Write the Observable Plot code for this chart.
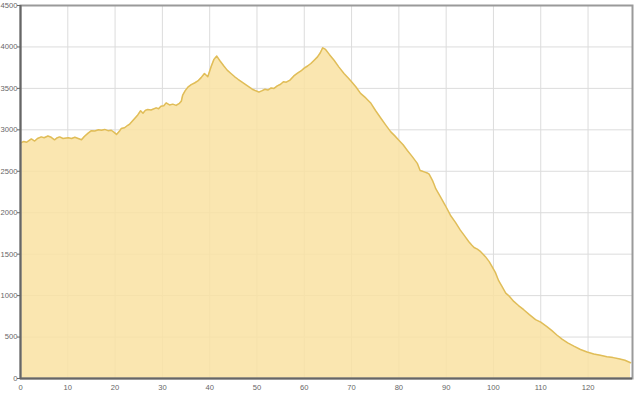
<!DOCTYPE html>
<html>
<head>
<meta charset="utf-8">
<script src="https://cdn.jsdelivr.net/npm/d3@7"></script>
<script src="https://cdn.jsdelivr.net/npm/@observablehq/plot@0.6"></script>
<style>
  html, body { margin: 0; padding: 0; background: #fff; }
  #chart svg { display: block; }
</style>
</head>
<body>
<div id="chart"></div>
<script>
const km = [0,0.7,1.3,2,2.3,3,3.6,4.4,5,5.8,6.5,7.2,7.8,8.3,9,10.1,10.8,11.5,12.2,12.9,
  13.5,14.3,15,15.7,16.5,17.1,17.8,18.5,19.2,19.8,20.3,21,21.3,22,22.7,23.1,24.1,24.8,25.4,25.9,
  26.4,26.9,27.6,28.7,29.2,29.7,30.3,30.8,31.5,32.2,32.9,33.6,34,34.3,34.8,35.4,36.1,36.8,37.5,38.2,
  38.9,39.6,40.3,40.9,41.5,42.2,43,43.7,44.5,45.3,46,47,48,49,50,50.4,51,51.7,52.3,53,
  53.6,54.3,55,55.6,56.2,57,57.8,58.5,59.3,60,60.7,61.4,62.1,62.8,63.4,63.9,64.5,65.3,66.3,67.3,
  68.4,69.2,70,70.9,71.9,73,74.1,75.1,76.2,77.2,78.3,79.1,80,80.9,81.8,82.8,83.9,84.5,85,85.5,
  86,86.4,87.1,87.4,87.8,88.8,89.8,90.9,92,93,93.9,94.8,95.4,95.9,96.6,97.3,98.3,99.1,99.8,100.4,
  101.1,101.8,102.6,103.4,104.3,105.3,106.4,107.6,108.9,110,111.3,112.3,113.4,114.5,115.7,117,118.4,119.8,121.2,122.6,
  124,125.3,126.5,127.8,129];
const elevation = [2840,2860,2850,2880,2890,2865,2895,2915,2905,2925,2910,2880,2905,2915,2895,2905,2895,2910,2895,2880,
  2920,2960,2990,2985,3000,2995,3005,2990,2995,2970,2945,2990,3015,3025,3055,3070,3135,3180,3230,3200,
  3235,3245,3240,3265,3255,3285,3290,3325,3300,3310,3295,3320,3345,3420,3470,3515,3545,3565,3590,3630,
  3680,3640,3760,3850,3890,3830,3770,3720,3680,3640,3610,3570,3530,3490,3465,3455,3470,3490,3480,3505,
  3500,3530,3550,3580,3575,3600,3650,3680,3710,3745,3770,3800,3840,3880,3930,3990,3970,3910,3840,3760,
  3680,3630,3580,3520,3440,3385,3320,3230,3140,3060,2975,2930,2875,2820,2750,2680,2595,2510,2500,2490,
  2480,2465,2390,2350,2290,2190,2090,1970,1880,1790,1720,1650,1610,1580,1560,1530,1470,1410,1340,1280,
  1180,1110,1030,990,930,880,830,770,710,680,625,580,525,475,430,390,350,320,295,280,
  263,252,238,220,190];
const xTicks = [0,10,20,30,40,50,60,70,80,90,100,110,120];
const yTicks = [0,500,1000,1500,2000,2500,3000,3500,4000,4500];

const data = km.map((d, i) => ({km: d, elev: elevation[i]}));

const chart = Plot.plot({
  width: 636,
  height: 400,
  marginLeft: 20,
  marginRight: 4,
  marginTop: 5,
  marginBottom: 22,
  style: {fontFamily: "'Liberation Sans', Arial, sans-serif", fontSize: "7.6px", color: "#666", background: "#fff"},
  x: {domain: [0, 129.4]},
  y: {domain: [0, 4500]},
  marks: [
    Plot.gridX(xTicks, {stroke: "#dcdcdc", strokeOpacity: 1}),
    Plot.gridY(yTicks, {stroke: "#dcdcdc", strokeOpacity: 1}),
    Plot.areaY(data, {x: "km", y: "elev", fill: "#f9e2a2", fillOpacity: 0.85}),
    Plot.lineY(data, {x: "km", y: "elev", stroke: "#e0bd58", strokeWidth: 1.5}),
    Plot.frame({stroke: "#9a9a9a", strokeWidth: 2}),
    Plot.ruleX([0], {stroke: "#666", strokeWidth: 2}),
    Plot.ruleY([0], {stroke: "#666", strokeWidth: 2}),
    Plot.axisY(yTicks, {tickSize: 3, tickPadding: 0, label: null, tickFormat: d => String(d)}),
    Plot.axisX(xTicks, {tickSize: 0, tickPadding: 6, label: null, tickFormat: d => String(d)})
  ]
});
document.getElementById("chart").appendChild(chart);
</script>
</body>
</html>
